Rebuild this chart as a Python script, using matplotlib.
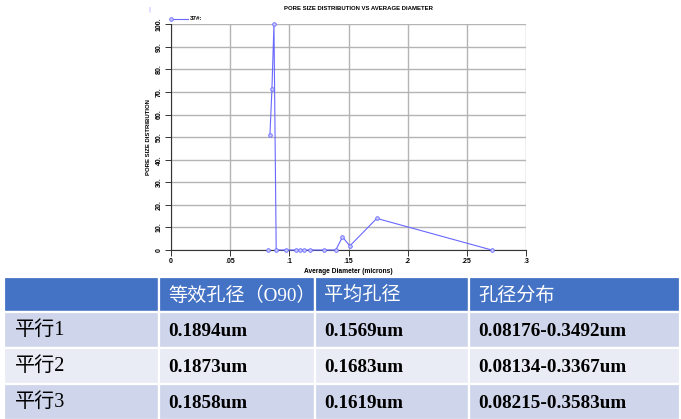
import matplotlib.pyplot as plt
from matplotlib.patches import Rectangle
from matplotlib.lines import Line2D

# pore size distribution curve (37#)
diameter = [0.0836, 0.0853, 0.0870, 0.0889, 0.0971, 0.1053, 0.1086, 0.1120,
            0.1176, 0.1289, 0.1393, 0.1449, 0.1511, 0.1739, 0.2710]
distribution = [51.0, 71.2, 100.0, 0.0, 0.0, 0.0, 0.0, 0.0,
                0.0, 0.0, 0.0, 5.8, 1.8, 14.0, 0.0]
# lone point at the lower end
diameter_min = [0.0819]
distribution_min = [0.0]

xticks = [0, 0.05, 0.1, 0.15, 0.2, 0.25, 0.3]
xticklabels = ["0", ".05", ".1", ".15", ".2", ".25", ".3"]
yticks = [0, 10, 20, 30, 40, 50, 60, 70, 80, 90, 100]
yticklabels = ["0", "10.", "20.", "30.", "40.", "50.", "60.", "70.", "80.", "90.", "100."]
series_name = "37#:"

# table below the chart
header = ["", "等效孔径（O90）", "平均孔径", "孔径分布"]
samples = ["平行1", "平行2", "平行3"]
d90 = ["0.1894um", "0.1873um", "0.1858um"]
mean_pore = ["0.1569um", "0.1683um", "0.1619um"]
pore_range = ["0.08176-0.3492um", "0.08134-0.3367um", "0.08215-0.3583um"]

W, H = 681, 419
fig = plt.figure(figsize=(W / 100, H / 100), dpi=100)
fig.patch.set_facecolor("white")

blue = "#6868ff"
mstyle = dict(color=blue, lw=0.8, marker="o", ms=2.6, mfc="#c8c8ff",
              mec=blue, mew=0.6)
ax = fig.add_axes([171 / W, 1 - 250 / H, (526 - 171) / W, (250 - 24.3) / H])
ax.plot(diameter, distribution, clip_on=False, zorder=3, **mstyle)
ax.plot(diameter_min, distribution_min, clip_on=False, zorder=3, **mstyle)
ax.set_xlim(0, 0.3)
ax.set_ylim(0, 100)
ax.set_xticks(xticks)
ax.set_xticklabels(xticklabels, fontsize=5, fontweight="bold", family="Liberation Sans")
ax.set_yticks(yticks)
ax.set_yticklabels(yticklabels, fontsize=5, fontweight="bold", family="Liberation Sans",
                   rotation=90, va="center")
ax.tick_params(length=4, width=0.7, color="#333333", pad=2)
ax.grid(True, color="#b4b4b4", lw=1.0)
ax.set_axisbelow(True)
for s in ["top", "right"]:
    ax.spines[s].set_visible(False)
for s in ["left", "bottom"]:
    ax.spines[s].set_linewidth(0.8)
    ax.spines[s].set_color("#333333")
ax.set_xlabel("Average Diameter (microns)", fontsize=4.8, fontweight="bold",
              family="Liberation Sans", labelpad=2)
ax.set_ylabel("PORE SIZE DISTRIBUTION", fontsize=4.3, fontweight="bold",
              family="Liberation Sans", labelpad=3)
fig.text(359 / W, 1 - 8 / H, "PORE SIZE DISTRIBUTION VS AVERAGE DIAMETER",
         fontsize=4.3, fontweight="bold", family="Liberation Sans",
         ha="center", va="center")

# legend entry: marker at the left end of a short line
ly = 1 - 19 / H
fig.add_artist(Line2D([171 / W, 188 / W], [ly, ly], color=blue, lw=0.8))
fig.add_artist(Line2D([171 / W], [ly], ls="none", marker="o", ms=2.6,
                      mfc="#c8c8ff", mec=blue, mew=0.6))
fig.text(190 / W, ly + 0.002, series_name, fontsize=4.5, fontweight="bold",
         family="Liberation Sans", ha="left", va="center")
fig.text(149 / W, 1 - 9 / H, "|", color="#8888ff", fontsize=4, ha="center", va="center")

# table
tab = fig.add_axes([0, 0, 1, 1], facecolor="none")
tab.set_xlim(0, W)
tab.set_ylim(H, 0)
tab.axis("off")
col_edges = [4, 159, 315, 469, 680]
row_edges = [277, 312, 348, 384, 420]
fills = ["#4472c4", "#cfd5ea", "#e9ebf5", "#cfd5ea"]
fam = ["Liberation Serif", "Noto Sans CJK SC"]

rows = [header] + [[samples[i], d90[i], mean_pore[i], pore_range[i]] for i in range(3)]
for r in range(4):
    for c in range(4):
        x0, x1 = col_edges[c], col_edges[c + 1]
        y0, y1 = row_edges[r], row_edges[r + 1]
        tab.add_patch(Rectangle((x0, y0), x1 - x0, y1 - y0, facecolor=fills[r],
                                edgecolor="white", lw=1.6))
        txt = rows[r][c]
        if not txt:
            continue
        yc = (y0 + y1) / 2
        if r == 0:
            tab.text(x0 + 9, yc + 1, txt, color="white", fontsize=13.8,
                     family=fam, ha="left", va="center")
        elif c == 0:
            tab.text(x0 + 11, yc, txt, color="black", fontsize=14.5,
                     family=fam, ha="left", va="center")
        else:
            tab.text(x0 + 9, yc + 1, txt, color="black", fontsize=13.8,
                     family=fam, fontweight="bold", ha="left", va="center")

plt.savefig("out.png", dpi=100)
